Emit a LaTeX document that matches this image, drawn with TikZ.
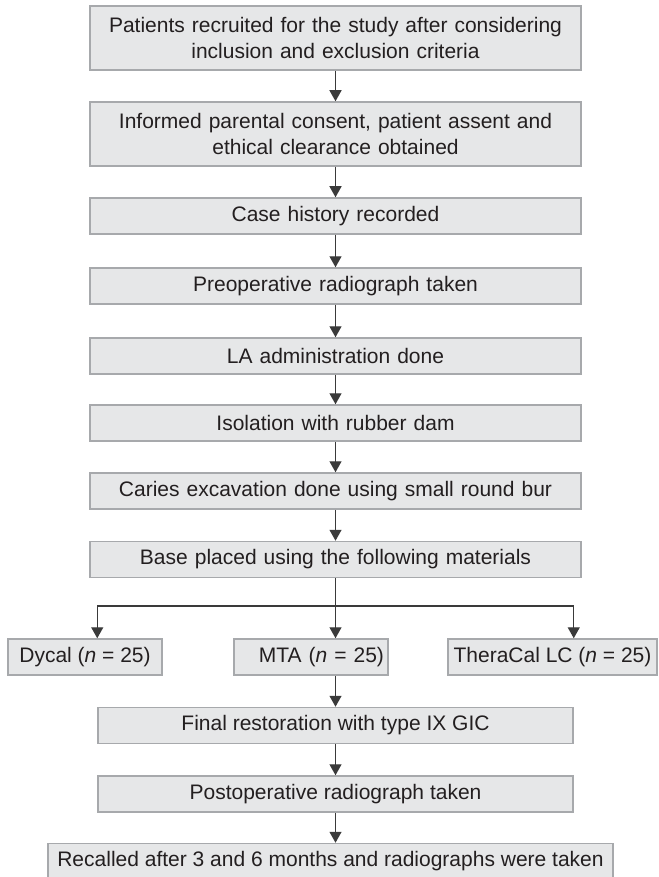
\documentclass[tikz,border=0pt]{standalone}
\usepackage{fontspec}
\setmainfont{Liberation Sans}
\usetikzlibrary{arrows.meta}
\definecolor{boxfill}{HTML}{E6E7E8}
\definecolor{boxline}{HTML}{A7A9AC}
\definecolor{linegray}{HTML}{3A3A3A}
\definecolor{textdark}{HTML}{231F20}
\tikzset{
  stage/.style={draw=boxline,fill=boxfill,line width=1.5pt,inner sep=0pt,
    minimum height=36pt,align=center,text=textdark,
    font=\fontsize{21}{26}\selectfont},
  widestage/.style={stage,minimum width=491pt,text width=475pt},
  flow/.style={draw=linegray,line width=1.3pt,-{Triangle[width=12pt,length=11pt]}},
}
\begin{document}
\begin{tikzpicture}[x=1pt,y=-1pt]
  \useasboundingbox (0,0) rectangle (658,877);
  \draw (335.5,38) node[widestage,minimum height=64pt] (recruit) {Patients recruited for the study after considering\\inclusion and exclusion criteria};
  \draw (335.5,134) node[widestage,minimum height=64pt] (consent) {Informed parental consent, patient assent and\\ethical clearance obtained};
  \draw (335.5,216) node[widestage] (history) {Case history recorded};
  \draw (335.5,286) node[widestage] (preop) {Preoperative radiograph taken};
  \draw (335.5,356) node[widestage] (la) {LA administration done};
  \draw (335.5,423) node[widestage] (isolation) {Isolation with rubber dam};
  \draw (335.5,491) node[widestage] (caries) {Caries excavation done using small round bur};
  \draw (335.5,559.5) node[widestage] (base) {Base placed using the following materials};
  \draw (85,657) node[stage,minimum width=154pt] (dycal) {Dycal (\textit{n} = 25)};
  \draw (311,657) node[stage,minimum width=154pt,text width=146pt,align=right] (mta) {MTA (\textit{n} = 25)};
  \draw (552.5,657) node[stage,minimum width=209pt] (thera) {TheraCal LC (\textit{n} = 25)};
  \draw (335.5,725.5) node[stage,minimum width=475pt] (final) {Final restoration with type IX GIC};
  \draw (335.5,794) node[stage,minimum width=475pt] (postop) {Postoperative radiograph taken};
  \draw (330.5,861.5) node[stage,minimum width=565pt] (recall) {Recalled after 3 and 6 months and radiographs were taken};
  \coordinate (split) at (335.5,606);
  \foreach \a/\b in {recruit/consent,consent/history,history/preop,preop/la,la/isolation,isolation/caries,caries/base}
    \draw[flow] (\a) -- (\b);
  \draw[flow] (base) -- (base.south |- mta.north);
  \draw[flow] (split) -| (dycal.north -| final.west);
  \draw[flow] (split) -| (thera.north -| final.east);
  \draw[flow] (mta.south -| final.north) -- (final);
  \draw[flow] (final) -- (postop);
  \draw[flow] (postop) -- (postop.south |- recall.north);
\end{tikzpicture}
\end{document}
